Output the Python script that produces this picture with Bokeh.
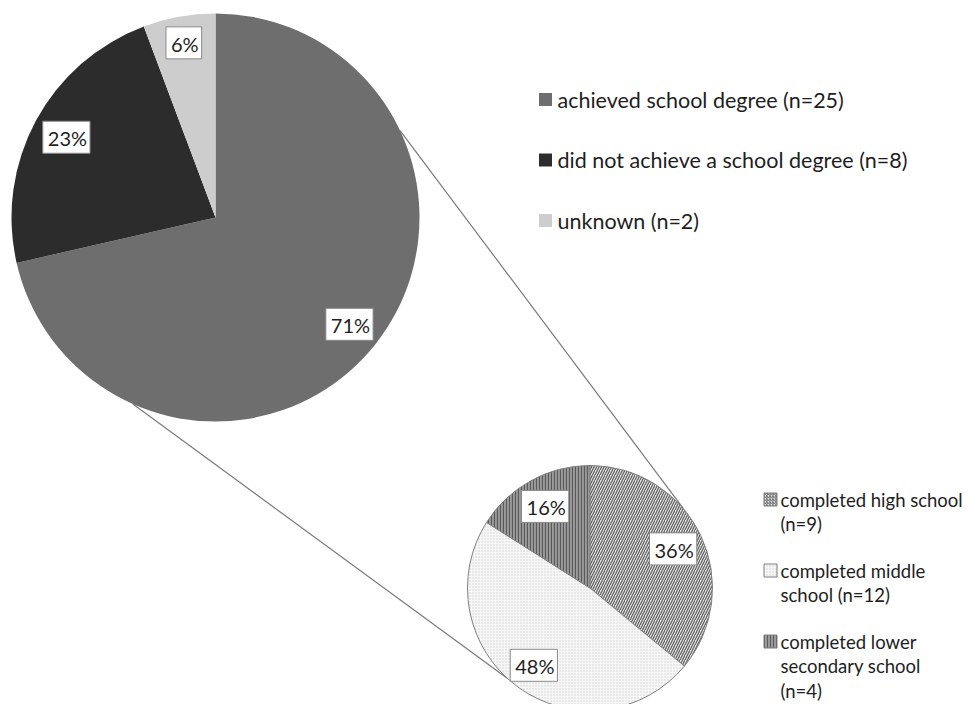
import math
from bokeh.plotting import figure
from bokeh.models import Range1d, ColumnDataSource
from bokeh.core.properties import value
from bokeh.embed import file_html
from bokeh.resources import INLINE

# ---------------- data ----------------
big_categories = ["achieved school degree", "did not achieve a school degree", "unknown"]
big_counts = [25, 8, 2]
small_categories = ["completed high school", "completed middle school", "completed lower secondary school"]
small_counts = [9, 12, 4]
small_legend_lines = [["completed high school", "(n=9)"],
                      ["completed middle", "school (n=12)"],
                      ["completed lower", "secondary school", "(n=4)"]]

# ---------------- style / layout ----------------
W, H = 968, 704
FONT = "Lato"
TXT = "#1e1e1e"
big_colors = ["#6e6e6e", "#2c2c2c", "#cdcdcd"]
small_fill = ["#e4e4e4", "#f7f7f7", "#9a9a9a"]
small_hatch = ["/", ".", "|"]
small_hatch_color = ["#5e5e5e", "#d2d2d2", "#5a5a5a"]
small_hatch_scale = [5, 3, 3]

big_cx, big_cy, big_r = 215, 487, 204
sm_cx, sm_cy, sm_r = 589.5, 116.5, 122.5
big_label_frac = [0.84, 0.83, 0.87]
small_label_frac = [0.75, 0.78, 0.76]
big_connect_deg = [64.8, 203.9]
small_connect_deg = [50.2, 222.3]


def slices(counts):
    total = sum(counts)
    st, en, mid = [], [], []
    cum = 0
    for c in counts:
        a0 = math.pi / 2 - 2 * math.pi * cum / total
        cum += c
        a1 = math.pi / 2 - 2 * math.pi * cum / total
        st.append(a0)
        en.append(a1)
        mid.append((a0 + a1) / 2)
    pct = [f"{round(100 * c / total)}%" for c in counts]
    return st, en, mid, pct


def on_circle(cx, cy, r, deg_clock_from_top):
    a = math.pi / 2 - math.radians(deg_clock_from_top)
    return cx + r * math.cos(a), cy + r * math.sin(a)


p = figure(width=W, height=H, x_range=Range1d(0, W), y_range=Range1d(0, H),
           output_backend="svg", toolbar_location=None, min_border=0,
           x_axis_type=None, y_axis_type=None)
p.grid.visible = False
p.outline_line_color = None
p.background_fill_color = "white"
p.border_fill_color = "white"

# connectors
x0s, y0s, x1s, y1s = [], [], [], []
for bd, sd in zip(big_connect_deg, small_connect_deg):
    a = on_circle(big_cx, big_cy, big_r, bd)
    b = on_circle(sm_cx, sm_cy, sm_r, sd)
    x0s.append(a[0]); y0s.append(a[1]); x1s.append(b[0]); y1s.append(b[1])
p.segment(x0=x0s, y0=y0s, x1=x1s, y1=y1s, line_color="#7a7a7a", line_width=1.2)

# big pie
bst, ben, bmid, bpct = slices(big_counts)
p.wedge(x=big_cx, y=big_cy, radius=big_r, start_angle=bst, end_angle=ben,
        direction="clock", fill_color=big_colors, line_color=None)

# small pie
sst, sen, smid, spct = slices(small_counts)
src_s = ColumnDataSource(dict(start=sst, end=sen, fill=small_fill, hatch=small_hatch,
                              hcol=small_hatch_color, hscale=small_hatch_scale))
p.wedge(x=sm_cx, y=sm_cy, radius=sm_r, start_angle="start", end_angle="end",
        direction="clock", fill_color="fill", hatch_pattern="hatch",
        hatch_color="hcol", hatch_scale="hscale", hatch_weight=1.2,
        line_color="#7f7f7f", line_width=1, source=src_s)

# data labels
lx = [big_cx + f * big_r * math.cos(m) for f, m in zip(big_label_frac, bmid)]
ly = [big_cy + f * big_r * math.sin(m) for f, m in zip(big_label_frac, bmid)]
lx += [sm_cx + f * sm_r * math.cos(m) for f, m in zip(small_label_frac, smid)]
ly += [sm_cy + f * sm_r * math.sin(m) for f, m in zip(small_label_frac, smid)]
p.text(x=lx, y=ly, text=bpct + spct, text_align="center", text_baseline="middle",
       text_font=value(FONT), text_font_size="20px", text_color=TXT,
       background_fill_color="white", border_line_color="#8a8a8a", border_line_width=1,
       padding=[5, 3, 5, 3])

# top legend
leg_x, leg_y0, leg_dy = 545, 605, -60.5
ly1 = [leg_y0 + i * leg_dy for i in range(len(big_categories))]
p.rect(x=[leg_x] * 3, y=ly1, width=13, height=13, fill_color=big_colors, line_color=None)
p.text(x=[leg_x + 12] * 3, y=ly1,
       text=[f"{c} (n={n})" for c, n in zip(big_categories, big_counts)],
       text_baseline="middle", text_font=value(FONT), text_font_size="21.5px", text_color=TXT)

# bottom legend
sleg_x, sleg_y0, sleg_dy, line_dy = 770, 205, -71, -24.5
sy = [sleg_y0 + i * sleg_dy for i in range(len(small_categories))]
p.rect(x=[sleg_x] * 3, y=sy, width=13, height=13, fill_color=small_fill,
       hatch_pattern=small_hatch, hatch_color=small_hatch_color, hatch_scale=3,
       hatch_weight=1, line_color="#7f7f7f", line_width=1)
tx, ty, tt = [], [], []
for yy, lines in zip(sy, small_legend_lines):
    for j, ln in enumerate(lines):
        tx.append(sleg_x + 10); ty.append(yy + j * line_dy); tt.append(ln)
p.text(x=tx, y=ty, text=tt, text_baseline="middle", text_font=value(FONT),
       text_font_size="18.5px", text_color=TXT)

open("out.html", "w").write(file_html(p, INLINE))
